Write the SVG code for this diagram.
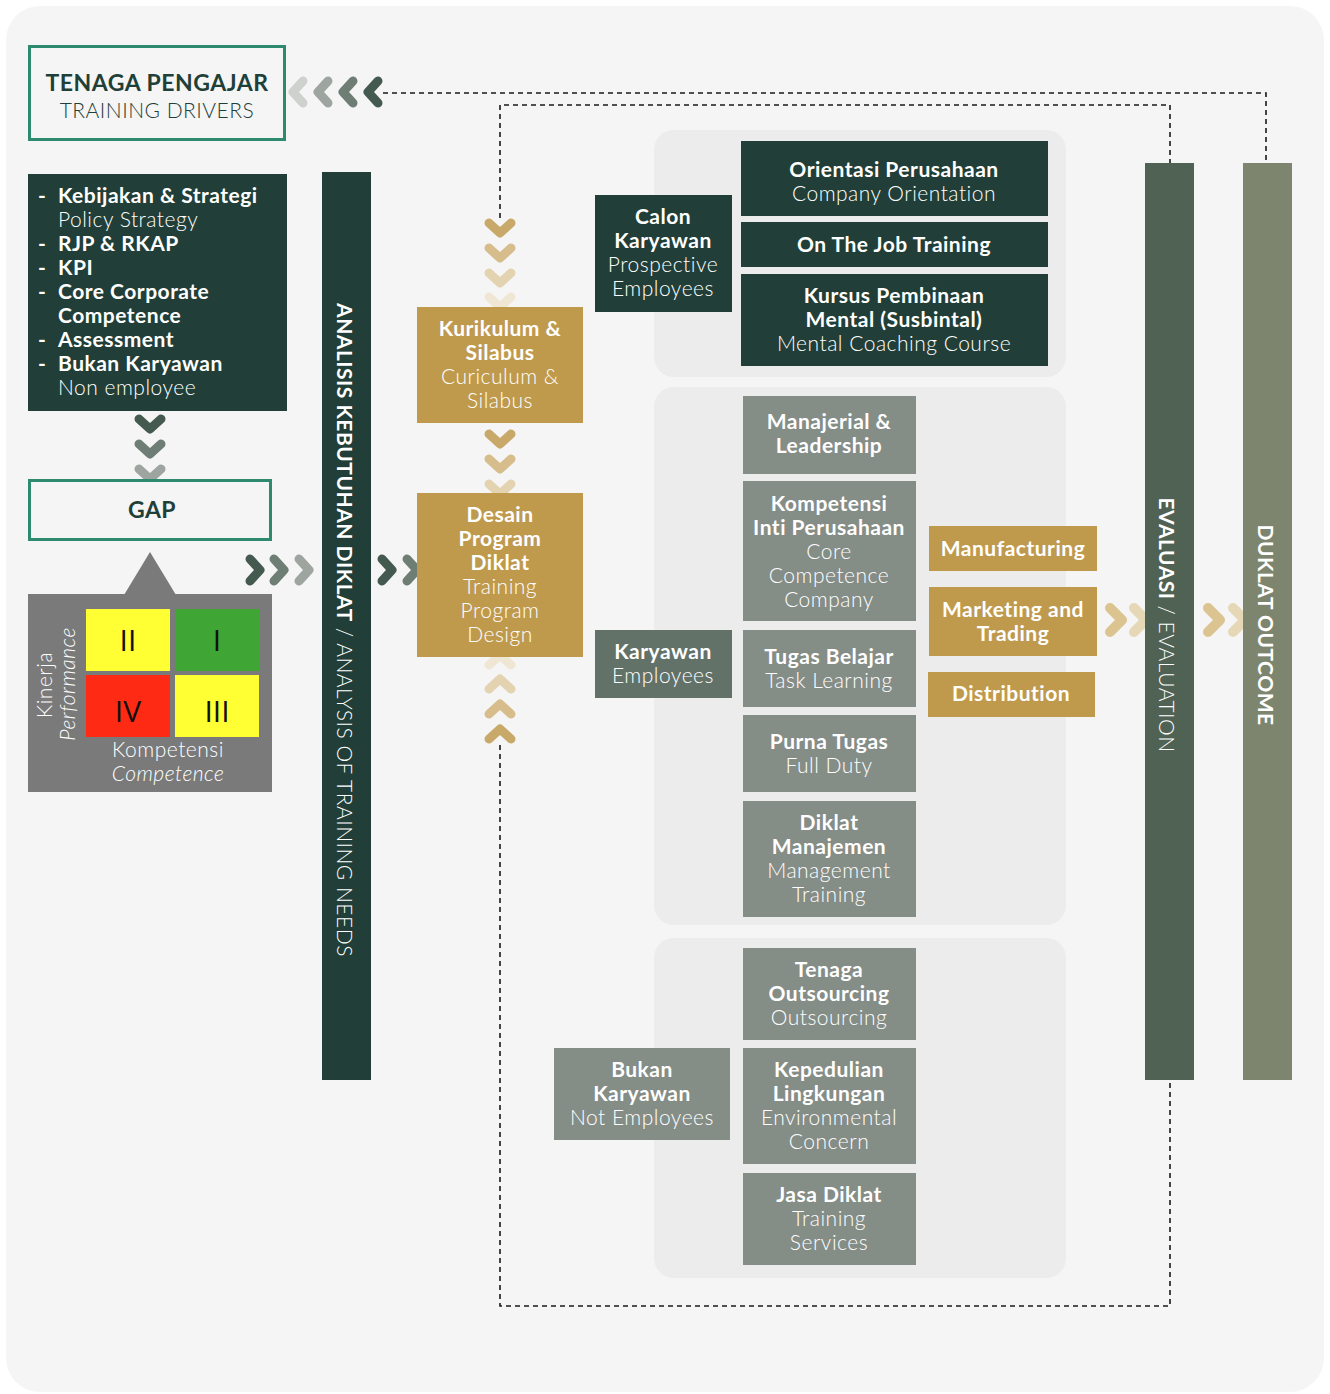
<svg xmlns="http://www.w3.org/2000/svg" width="1330" height="1394" viewBox="0 0 1330 1394">
<defs>
<style>
text{font-family:Lato,"Noto Sans","DejaVu Sans",sans-serif;letter-spacing:0.5px;}
.b{font-weight:700;}
.l{font-weight:300;}
.w{fill:#ffffff;text-anchor:middle;font-size:21px;}
.wl{fill:#ffffff;font-size:21px;}
.dk{fill:#213f38;}
.gr{fill:#858d87;}
.gd{fill:#bf9a4d;}
.panel{fill:#ececec;}
.dash{fill:none;stroke:#1a1a1a;stroke-width:1.6;stroke-dasharray:5 4;}
.chev{fill:none;stroke-width:9;stroke-linecap:round;stroke-linejoin:round;}
.rn{font-family:"Open Sans","Noto Sans",sans-serif;font-size:30px;fill:#111;text-anchor:middle;letter-spacing:0;}
</style>
<path id="cR" d="M-5,-11 L5,0 L-5,11"/>
<path id="cL" d="M5,-11 L-5,0 L5,11"/>
<path id="cD" d="M-11,-5 L0,5 L11,-5"/>
<path id="cU" d="M-11,5 L0,-5 L11,5"/>
<path id="cRg" d="M-6,-12 L6,0 L-6,12"/>
</defs>
<rect x="0" y="0" width="1330" height="1394" fill="#ffffff"/>
<rect x="6" y="6" width="1318" height="1386" rx="34" fill="#f5f5f5"/>

<!-- panels -->
<rect class="panel" x="654" y="130" width="412" height="247" rx="20"/>
<rect class="panel" x="654" y="387" width="412" height="538" rx="20"/>
<rect class="panel" x="654" y="938" width="412" height="340" rx="20"/>

<g id="connectors">
<path class="dash" d="M383,93 H1266 V163"/>
<path class="dash" d="M500,218 V105 H1170 V163"/>
<path class="dash" d="M500,745 V1306 H1170 V1080"/>
<g class="chev">
<use href="#cL" x="298" y="92" stroke="#cfd1cf"/>
<use href="#cL" x="323" y="92" stroke="#9ea49f"/>
<use href="#cL" x="348" y="92" stroke="#6e7e75"/>
<use href="#cL" x="373" y="92" stroke="#445a50"/>
<use href="#cD" x="150" y="424" stroke="#445a50"/>
<use href="#cD" x="150" y="449" stroke="#6e7e75"/>
<use href="#cD" x="150" y="474" stroke="#9ea49f"/>
<use href="#cR" x="255" y="570" stroke="#445a50"/>
<use href="#cR" x="279" y="570" stroke="#6e7e75"/>
<use href="#cR" x="304" y="570" stroke="#9ea49f"/>
<use href="#cR" x="387" y="570" stroke="#445a50"/>
<use href="#cR" x="412" y="570" stroke="#6e7e75"/>
<use href="#cD" x="500" y="228" stroke="#c8a96a"/>
<use href="#cD" x="500" y="253" stroke="#d6bd8b"/>
<use href="#cD" x="500" y="278" stroke="#e3d3b0"/>
<use href="#cD" x="500" y="302" stroke="#efe6d3"/>
<use href="#cD" x="500" y="439" stroke="#c8a96a"/>
<use href="#cD" x="500" y="464" stroke="#d6bd8b"/>
<use href="#cD" x="500" y="489" stroke="#e3d3b0"/>
<use href="#cU" x="500" y="660" stroke="#efe6d3"/>
<use href="#cU" x="500" y="684" stroke="#e3d3b0"/>
<use href="#cU" x="500" y="709" stroke="#d6bd8b"/>
<use href="#cU" x="500" y="734" stroke="#c8a96a"/>
<use href="#cRg" x="1116" y="620" stroke="#dcc491" stroke-width="10"/>
<use href="#cRg" x="1140" y="620" stroke="#e6d7b7" stroke-width="10"/>
<use href="#cRg" x="1214" y="620" stroke="#dcc491" stroke-width="10"/>
<use href="#cRg" x="1239" y="620" stroke="#e6d7b7" stroke-width="10"/>
</g>
</g>

<g id="tenaga-pengajar">
<rect x="29.5" y="46.5" width="255" height="93" fill="#f5f5f5" stroke="#2e8a6e" stroke-width="3"/>
<text x="157" y="91" text-anchor="middle" font-size="23" class="b" fill="#1f4038">TENAGA PENGAJAR</text>
<text x="157" y="118" text-anchor="middle" font-size="21" class="l" fill="#1f4038">TRAINING DRIVERS</text>
</g>

<g id="drivers-list">
<rect class="dk" x="28" y="174" width="259" height="237"/>
<g class="wl">
<text x="38" y="203" class="b">-</text><text x="58" y="203" class="b">Kebijakan &amp; Strategi</text>
<text x="58" y="227" class="l">Policy Strategy</text>
<text x="38" y="251" class="b">-</text><text x="58" y="251" class="b">RJP &amp; RKAP</text>
<text x="38" y="275" class="b">-</text><text x="58" y="275" class="b">KPI</text>
<text x="38" y="299" class="b">-</text><text x="58" y="299" class="b">Core Corporate</text>
<text x="58" y="323" class="b">Competence</text>
<text x="38" y="347" class="b">-</text><text x="58" y="347" class="b">Assessment</text>
<text x="38" y="371" class="b">-</text><text x="58" y="371" class="b">Bukan Karyawan</text>
<text x="58" y="395" class="l">Non employee</text>
</g>
</g>

<g id="gap">
<rect x="29.5" y="480.5" width="241" height="59" fill="#f5f5f5" stroke="#2e8a6e" stroke-width="3"/>
<text x="152" y="518" text-anchor="middle" font-size="23" class="b" fill="#1f4038">GAP</text>
</g>

<g id="matrix">
<polygon points="150,552 124,595 176,595" fill="#7a7a7a"/>
<rect x="28" y="594" width="244" height="198" fill="#7a7a7a"/>
<rect x="86" y="609" width="84" height="62" fill="#ffff33"/>
<rect x="175" y="609" width="84" height="62" fill="#3fa535"/>
<rect x="86" y="675" width="84" height="62" fill="#ff2a14"/>
<rect x="175" y="675" width="84" height="62" fill="#ffff33"/>
<text class="rn" x="128" y="651">II</text>
<text class="rn" x="217" y="651">I</text>
<text class="rn" x="128" y="722">IV</text>
<text class="rn" x="217" y="722">III</text>
<text transform="translate(52,685) rotate(-90)" text-anchor="middle" font-size="21" class="l" fill="#ffffff">Kinerja</text>
<text transform="translate(75,684) rotate(-90)" text-anchor="middle" font-size="21" class="l" font-style="italic" fill="#ffffff">Performance</text>
<text x="168" y="757" text-anchor="middle" font-size="21" class="l" fill="#ffffff">Kompetensi</text>
<text x="168" y="781" text-anchor="middle" font-size="21" class="l" font-style="italic" fill="#ffffff">Competence</text>
</g>

<g id="analisis">
<rect class="dk" x="322" y="172" width="49" height="908"/>
<text transform="translate(346,630) rotate(90)" text-anchor="middle" dominant-baseline="central" font-size="21" fill="#ffffff"><tspan class="b">ANALISIS KEBUTUHAN DIKLAT</tspan><tspan class="l"> / ANALYSIS OF TRAINING NEEDS</tspan></text>
</g>

<g id="kurikulum">
<rect class="gd" x="417" y="307" width="166" height="116"/>
<text class="w b" x="500" y="336">Kurikulum &amp;</text>
<text class="w b" x="500" y="360">Silabus</text>
<text class="w l" x="500" y="384">Curiculum &amp;</text>
<text class="w l" x="500" y="408">Silabus</text>
</g>

<g id="desain">
<rect class="gd" x="417" y="493" width="166" height="164"/>
<text class="w b" x="500" y="522">Desain</text>
<text class="w b" x="500" y="546">Program</text>
<text class="w b" x="500" y="570">Diklat</text>
<text class="w l" x="500" y="594">Training</text>
<text class="w l" x="500" y="618">Program</text>
<text class="w l" x="500" y="642">Design</text>
</g>

<g id="calon">
<rect class="dk" x="595" y="195" width="137" height="117"/>
<text class="w b" x="663" y="224">Calon</text>
<text class="w b" x="663" y="248">Karyawan</text>
<text class="w l" x="663" y="272">Prospective</text>
<text class="w l" x="663" y="296">Employees</text>
</g>
<g id="orientasi">
<rect class="dk" x="741" y="141" width="307" height="75"/>
<text class="w b" x="894" y="177">Orientasi Perusahaan</text>
<text class="w l" x="894" y="201">Company Orientation</text>
</g>
<g id="ojt">
<rect class="dk" x="741" y="222" width="307" height="45"/>
<text class="w b" x="894" y="252">On The Job Training</text>
</g>
<g id="kursus">
<rect class="dk" x="741" y="274" width="307" height="92"/>
<text class="w b" x="894" y="303">Kursus Pembinaan</text>
<text class="w b" x="894" y="327">Mental (Susbintal)</text>
<text class="w l" x="894" y="351">Mental Coaching Course</text>
</g>

<g id="karyawan">
<rect x="595" y="630" width="137" height="68" fill="#627269"/>
<text class="w b" x="663" y="659">Karyawan</text>
<text class="w l" x="663" y="683">Employees</text>
</g>
<g id="manajerial">
<rect class="gr" x="743" y="396" width="173" height="78"/>
<text class="w b" x="829" y="429">Manajerial &amp;</text>
<text class="w b" x="829" y="453">Leadership</text>
</g>
<g id="kompetensi-inti">
<rect class="gr" x="743" y="481" width="173" height="140"/>
<text class="w b" x="829" y="511">Kompetensi</text>
<text class="w b" x="829" y="535">Inti Perusahaan</text>
<text class="w l" x="829" y="559">Core</text>
<text class="w l" x="829" y="583">Competence</text>
<text class="w l" x="829" y="607">Company</text>
</g>
<g id="tugas-belajar">
<rect class="gr" x="743" y="630" width="173" height="77"/>
<text class="w b" x="829" y="664">Tugas Belajar</text>
<text class="w l" x="829" y="688">Task Learning</text>
</g>
<g id="purna-tugas">
<rect class="gr" x="743" y="715" width="173" height="77"/>
<text class="w b" x="829" y="749">Purna Tugas</text>
<text class="w l" x="829" y="773">Full Duty</text>
</g>
<g id="diklat-manajemen">
<rect class="gr" x="743" y="801" width="173" height="116"/>
<text class="w b" x="829" y="830">Diklat</text>
<text class="w b" x="829" y="854">Manajemen</text>
<text class="w l" x="829" y="878">Management</text>
<text class="w l" x="829" y="902">Training</text>
</g>
<g id="manufacturing">
<rect class="gd" x="929" y="526" width="168" height="45"/>
<text class="w b" x="1013" y="556">Manufacturing</text>
</g>
<g id="marketing">
<rect class="gd" x="929" y="587" width="168" height="69"/>
<text class="w b" x="1013" y="617">Marketing and</text>
<text class="w b" x="1013" y="641">Trading</text>
</g>
<g id="distribution">
<rect class="gd" x="928" y="672" width="167" height="45"/>
<text class="w b" x="1011" y="701">Distribution</text>
</g>

<g id="bukan-karyawan">
<rect class="gr" x="554" y="1048" width="176" height="92"/>
<text class="w b" x="642" y="1077">Bukan</text>
<text class="w b" x="642" y="1101">Karyawan</text>
<text class="w l" x="642" y="1125">Not Employees</text>
</g>
<g id="outsourcing">
<rect class="gr" x="743" y="948" width="173" height="92"/>
<text class="w b" x="829" y="977">Tenaga</text>
<text class="w b" x="829" y="1001">Outsourcing</text>
<text class="w l" x="829" y="1025">Outsourcing</text>
</g>
<g id="kepedulian">
<rect class="gr" x="743" y="1048" width="173" height="116"/>
<text class="w b" x="829" y="1077">Kepedulian</text>
<text class="w b" x="829" y="1101">Lingkungan</text>
<text class="w l" x="829" y="1125">Environmental</text>
<text class="w l" x="829" y="1149">Concern</text>
</g>
<g id="jasa-diklat">
<rect class="gr" x="743" y="1173" width="173" height="92"/>
<text class="w b" x="829" y="1202">Jasa Diklat</text>
<text class="w l" x="829" y="1226">Training</text>
<text class="w l" x="829" y="1250">Services</text>
</g>

<g id="evaluasi">
<rect x="1145" y="163" width="49" height="917" fill="#506254"/>
<text transform="translate(1168,625) rotate(90)" text-anchor="middle" dominant-baseline="central" font-size="21" fill="#ffffff"><tspan class="b">EVALUASI</tspan><tspan class="l"> / EVALUATION</tspan></text>
</g>
<g id="duklat-outcome">
<rect x="1243" y="163" width="49" height="917" fill="#7e856f"/>
<text transform="translate(1266,625) rotate(90)" text-anchor="middle" dominant-baseline="central" font-size="21" class="b" fill="#ffffff">DUKLAT OUTCOME</text>
</g>
</svg>
